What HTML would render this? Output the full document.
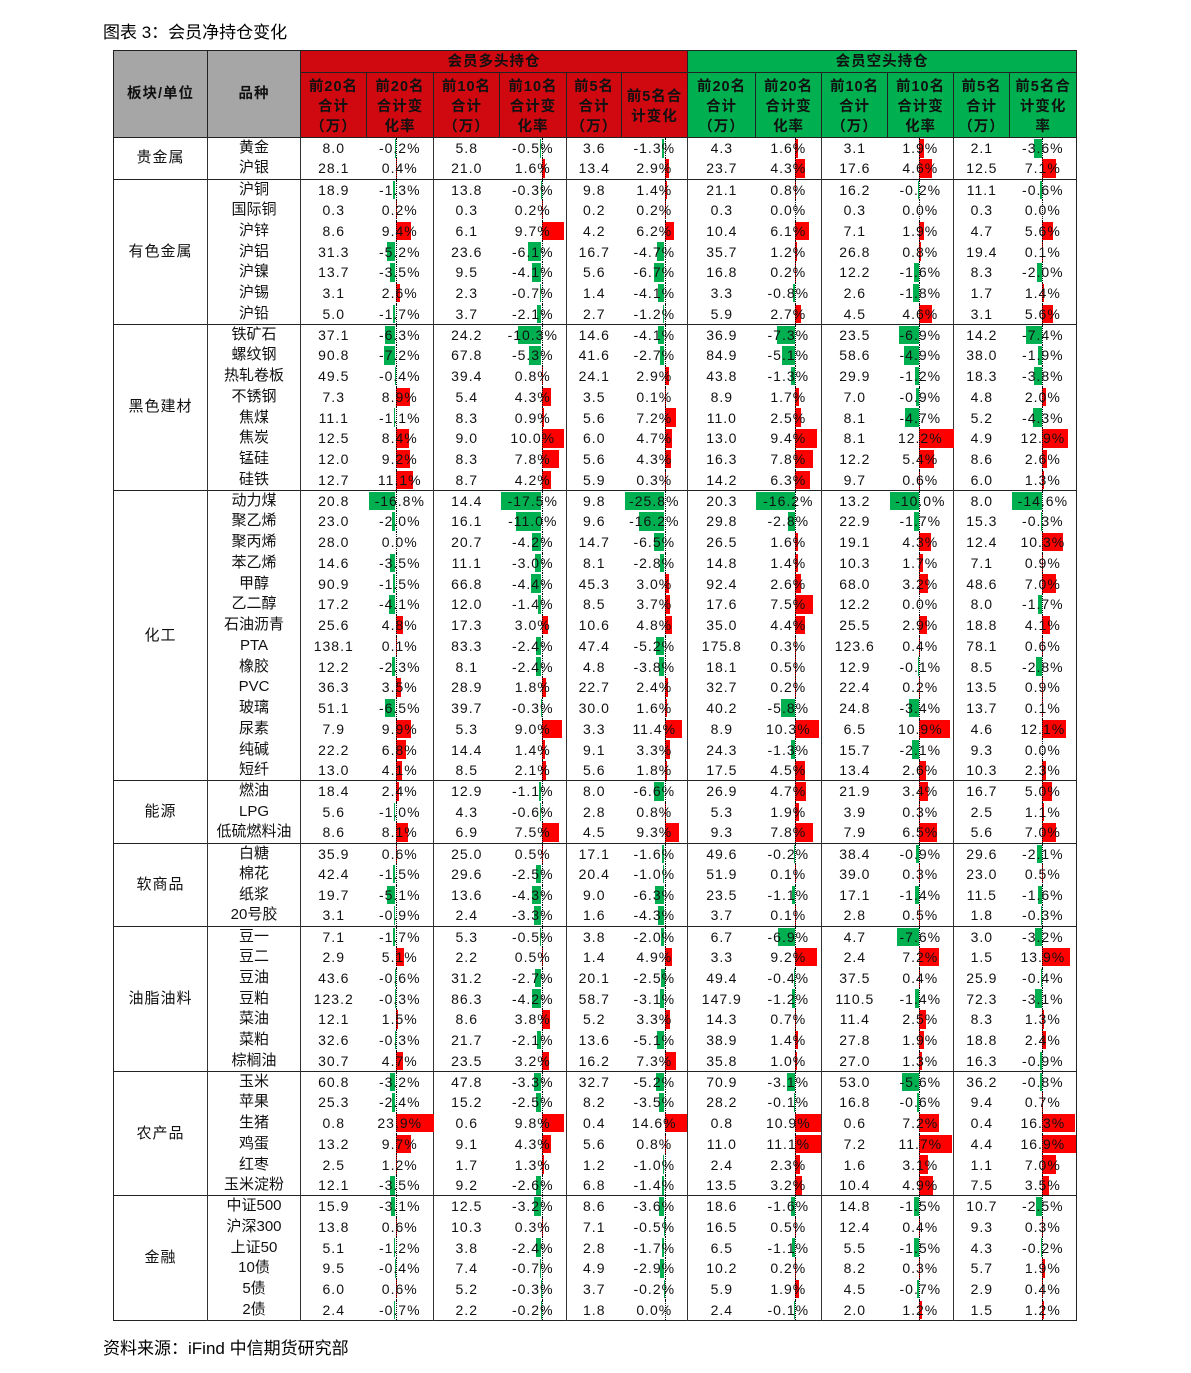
<!DOCTYPE html>
<html><head><meta charset="utf-8"><style>
body{margin:0;background:#fff;width:1191px;height:1373px;position:relative;font-family:"Liberation Sans","Noto Sans CJK SC",sans-serif;}
.t{position:absolute;left:103px;top:18px;font-size:17px;color:#000;}
.f{position:absolute;left:103px;top:1334px;font-size:17px;color:#000;}
table{position:absolute;left:113px;top:50px;border-collapse:collapse;table-layout:fixed;width:963px;border:1.5px solid #222;}
td{padding:0;text-align:center;font-size:14px;letter-spacing:1px;color:#111;white-space:nowrap;overflow:visible;position:relative;line-height:20px;}
thead td{font-weight:bold;font-size:14.5px;line-height:20px;border:1px solid #222;}
thead tr.h2 td{padding-top:4px;}
.g{background:#a6a6a6;}
.r{background:#d0080f;}
.gr{background:#00b050;}
tbody tr{height:20.75px;}
.s{font-size:15px;}
.n{font-family:"Liberation Sans","Noto Sans CJK SC",sans-serif;font-size:15px;letter-spacing:0;}
.bl{border-right:1px solid #333;}
.x td{border-top:1px solid #222;}
.c span{position:relative;z-index:2;}
.bar{position:absolute;top:1px;height:18.5px;z-index:1;}
.ax{position:absolute;top:0;bottom:0;width:0;border-left:1px dotted #000;z-index:1;}
</style></head><body>
<div class="t">图表 3：会员净持仓变化</div>
<table>
<colgroup><col style="width:94px"><col style="width:93px"><col style="width:66px"><col style="width:67px"><col style="width:66px"><col style="width:67px"><col style="width:55px"><col style="width:66px"><col style="width:68px"><col style="width:66px"><col style="width:66px"><col style="width:66px"><col style="width:56px"><col style="width:67px"></colgroup>
<thead>
<tr style="height:22px"><td class="g" rowspan="2" style="padding-top:0">板块/单位</td><td class="g" rowspan="2" style="padding-top:0">品种</td><td class="r" colspan="6">会员多头持仓</td><td class="gr" colspan="6">会员空头持仓</td></tr>
<tr class="h2" style="height:65px"><td class="r">前20名<br>合计<br>（万）</td><td class="r">前20名<br>合计变<br>化率</td><td class="r">前10名<br>合计<br>（万）</td><td class="r">前10名<br>合计变<br>化率</td><td class="r">前5名<br>合计<br>（万）</td><td class="r">前5名合<br>计变化</td><td class="gr">前20名<br>合计<br>（万）</td><td class="gr">前20名<br>合计变<br>化率</td><td class="gr">前10名<br>合计<br>（万）</td><td class="gr">前10名<br>合计变<br>化率</td><td class="gr">前5名<br>合计<br>（万）</td><td class="gr">前5名合<br>计变化<br>率</td></tr>
</thead>
<tbody id="tb">
<tr class="x"><td rowspan="2" class="s bl">贵金属</td><td class="n bl">黄金</td><td>8.0</td><td class="c">-0.2%</td><td>5.8</td><td class="c">-0.5%</td><td>3.6</td><td class="c">-1.3%</td><td>4.3</td><td class="c">1.6%</td><td>3.1</td><td class="c">1.9%</td><td>2.1</td><td class="c">-3.6%</td></tr>
<tr><td class="n bl">沪银</td><td>28.1</td><td class="c">0.4%</td><td>21.0</td><td class="c">1.6%</td><td>13.4</td><td class="c">2.9%</td><td>23.7</td><td class="c">4.3%</td><td>17.6</td><td class="c">4.6%</td><td>12.5</td><td class="c">7.1%</td></tr>
<tr class="x"><td rowspan="7" class="s bl">有色金属</td><td class="n bl">沪铜</td><td>18.9</td><td class="c">-1.3%</td><td>13.8</td><td class="c">-0.3%</td><td>9.8</td><td class="c">1.4%</td><td>21.1</td><td class="c">0.8%</td><td>16.2</td><td class="c">-0.2%</td><td>11.1</td><td class="c">-0.6%</td></tr>
<tr><td class="n bl">国际铜</td><td>0.3</td><td class="c">0.2%</td><td>0.3</td><td class="c">0.2%</td><td>0.2</td><td class="c">0.2%</td><td>0.3</td><td class="c">0.0%</td><td>0.3</td><td class="c">0.0%</td><td>0.3</td><td class="c">0.0%</td></tr>
<tr><td class="n bl">沪锌</td><td>8.6</td><td class="c">9.4%</td><td>6.1</td><td class="c">9.7%</td><td>4.2</td><td class="c">6.2%</td><td>10.4</td><td class="c">6.1%</td><td>7.1</td><td class="c">1.9%</td><td>4.7</td><td class="c">5.6%</td></tr>
<tr><td class="n bl">沪铝</td><td>31.3</td><td class="c">-5.2%</td><td>23.6</td><td class="c">-6.1%</td><td>16.7</td><td class="c">-4.7%</td><td>35.7</td><td class="c">1.2%</td><td>26.8</td><td class="c">0.8%</td><td>19.4</td><td class="c">0.1%</td></tr>
<tr><td class="n bl">沪镍</td><td>13.7</td><td class="c">-3.5%</td><td>9.5</td><td class="c">-4.1%</td><td>5.6</td><td class="c">-6.7%</td><td>16.8</td><td class="c">0.2%</td><td>12.2</td><td class="c">-1.6%</td><td>8.3</td><td class="c">-2.0%</td></tr>
<tr><td class="n bl">沪锡</td><td>3.1</td><td class="c">2.6%</td><td>2.3</td><td class="c">-0.7%</td><td>1.4</td><td class="c">-4.1%</td><td>3.3</td><td class="c">-0.8%</td><td>2.6</td><td class="c">-1.8%</td><td>1.7</td><td class="c">1.4%</td></tr>
<tr><td class="n bl">沪铅</td><td>5.0</td><td class="c">-1.7%</td><td>3.7</td><td class="c">-2.1%</td><td>2.7</td><td class="c">-1.2%</td><td>5.9</td><td class="c">2.7%</td><td>4.5</td><td class="c">4.6%</td><td>3.1</td><td class="c">5.6%</td></tr>
<tr class="x"><td rowspan="8" class="s bl">黑色建材</td><td class="n bl">铁矿石</td><td>37.1</td><td class="c">-6.3%</td><td>24.2</td><td class="c">-10.3%</td><td>14.6</td><td class="c">-4.1%</td><td>36.9</td><td class="c">-7.3%</td><td>23.5</td><td class="c">-6.9%</td><td>14.2</td><td class="c">-7.4%</td></tr>
<tr><td class="n bl">螺纹钢</td><td>90.8</td><td class="c">-7.2%</td><td>67.8</td><td class="c">-5.3%</td><td>41.6</td><td class="c">-2.7%</td><td>84.9</td><td class="c">-5.1%</td><td>58.6</td><td class="c">-4.9%</td><td>38.0</td><td class="c">-1.9%</td></tr>
<tr><td class="n bl">热轧卷板</td><td>49.5</td><td class="c">-0.4%</td><td>39.4</td><td class="c">0.8%</td><td>24.1</td><td class="c">2.9%</td><td>43.8</td><td class="c">-1.3%</td><td>29.9</td><td class="c">-1.2%</td><td>18.3</td><td class="c">-3.8%</td></tr>
<tr><td class="n bl">不锈钢</td><td>7.3</td><td class="c">8.9%</td><td>5.4</td><td class="c">4.3%</td><td>3.5</td><td class="c">0.1%</td><td>8.9</td><td class="c">1.7%</td><td>7.0</td><td class="c">-0.9%</td><td>4.8</td><td class="c">2.0%</td></tr>
<tr><td class="n bl">焦煤</td><td>11.1</td><td class="c">-1.1%</td><td>8.3</td><td class="c">0.9%</td><td>5.6</td><td class="c">7.2%</td><td>11.0</td><td class="c">2.5%</td><td>8.1</td><td class="c">-4.7%</td><td>5.2</td><td class="c">-4.3%</td></tr>
<tr><td class="n bl">焦炭</td><td>12.5</td><td class="c">8.4%</td><td>9.0</td><td class="c">10.0%</td><td>6.0</td><td class="c">4.7%</td><td>13.0</td><td class="c">9.4%</td><td>8.1</td><td class="c">12.2%</td><td>4.9</td><td class="c">12.9%</td></tr>
<tr><td class="n bl">锰硅</td><td>12.0</td><td class="c">9.2%</td><td>8.3</td><td class="c">7.8%</td><td>5.6</td><td class="c">4.3%</td><td>16.3</td><td class="c">7.8%</td><td>12.2</td><td class="c">5.4%</td><td>8.6</td><td class="c">2.6%</td></tr>
<tr><td class="n bl">硅铁</td><td>12.7</td><td class="c">11.1%</td><td>8.7</td><td class="c">4.2%</td><td>5.9</td><td class="c">0.3%</td><td>14.2</td><td class="c">6.3%</td><td>9.7</td><td class="c">0.6%</td><td>6.0</td><td class="c">1.3%</td></tr>
<tr class="x"><td rowspan="14" class="s bl">化工</td><td class="n bl">动力煤</td><td>20.8</td><td class="c">-16.8%</td><td>14.4</td><td class="c">-17.5%</td><td>9.8</td><td class="c">-25.8%</td><td>20.3</td><td class="c">-16.2%</td><td>13.2</td><td class="c">-10.0%</td><td>8.0</td><td class="c">-14.6%</td></tr>
<tr><td class="n bl">聚乙烯</td><td>23.0</td><td class="c">-2.0%</td><td>16.1</td><td class="c">-11.0%</td><td>9.6</td><td class="c">-16.2%</td><td>29.8</td><td class="c">-2.8%</td><td>22.9</td><td class="c">-1.7%</td><td>15.3</td><td class="c">-0.3%</td></tr>
<tr><td class="n bl">聚丙烯</td><td>28.0</td><td class="c">0.0%</td><td>20.7</td><td class="c">-4.2%</td><td>14.7</td><td class="c">-6.5%</td><td>26.5</td><td class="c">1.6%</td><td>19.1</td><td class="c">4.3%</td><td>12.4</td><td class="c">10.3%</td></tr>
<tr><td class="n bl">苯乙烯</td><td>14.6</td><td class="c">-3.5%</td><td>11.1</td><td class="c">-3.0%</td><td>8.1</td><td class="c">-2.8%</td><td>14.8</td><td class="c">1.4%</td><td>10.3</td><td class="c">1.7%</td><td>7.1</td><td class="c">0.9%</td></tr>
<tr><td class="n bl">甲醇</td><td>90.9</td><td class="c">-1.5%</td><td>66.8</td><td class="c">-4.4%</td><td>45.3</td><td class="c">3.0%</td><td>92.4</td><td class="c">2.6%</td><td>68.0</td><td class="c">3.2%</td><td>48.6</td><td class="c">7.0%</td></tr>
<tr><td class="n bl">乙二醇</td><td>17.2</td><td class="c">-4.1%</td><td>12.0</td><td class="c">-1.4%</td><td>8.5</td><td class="c">3.7%</td><td>17.6</td><td class="c">7.5%</td><td>12.2</td><td class="c">0.0%</td><td>8.0</td><td class="c">-1.7%</td></tr>
<tr><td class="n bl">石油沥青</td><td>25.6</td><td class="c">4.8%</td><td>17.3</td><td class="c">3.0%</td><td>10.6</td><td class="c">4.8%</td><td>35.0</td><td class="c">4.4%</td><td>25.5</td><td class="c">2.9%</td><td>18.8</td><td class="c">4.1%</td></tr>
<tr><td class="n bl">PTA</td><td>138.1</td><td class="c">0.1%</td><td>83.3</td><td class="c">-2.4%</td><td>47.4</td><td class="c">-5.2%</td><td>175.8</td><td class="c">0.3%</td><td>123.6</td><td class="c">0.4%</td><td>78.1</td><td class="c">0.6%</td></tr>
<tr><td class="n bl">橡胶</td><td>12.2</td><td class="c">-2.3%</td><td>8.1</td><td class="c">-2.4%</td><td>4.8</td><td class="c">-3.8%</td><td>18.1</td><td class="c">0.5%</td><td>12.9</td><td class="c">-0.1%</td><td>8.5</td><td class="c">-2.8%</td></tr>
<tr><td class="n bl">PVC</td><td>36.3</td><td class="c">3.5%</td><td>28.9</td><td class="c">1.8%</td><td>22.7</td><td class="c">2.4%</td><td>32.7</td><td class="c">0.2%</td><td>22.4</td><td class="c">0.2%</td><td>13.5</td><td class="c">0.9%</td></tr>
<tr><td class="n bl">玻璃</td><td>51.1</td><td class="c">-6.5%</td><td>39.7</td><td class="c">-0.3%</td><td>30.0</td><td class="c">1.6%</td><td>40.2</td><td class="c">-5.8%</td><td>24.8</td><td class="c">-3.4%</td><td>13.7</td><td class="c">0.1%</td></tr>
<tr><td class="n bl">尿素</td><td>7.9</td><td class="c">9.9%</td><td>5.3</td><td class="c">9.0%</td><td>3.3</td><td class="c">11.4%</td><td>8.9</td><td class="c">10.3%</td><td>6.5</td><td class="c">10.9%</td><td>4.6</td><td class="c">12.1%</td></tr>
<tr><td class="n bl">纯碱</td><td>22.2</td><td class="c">6.8%</td><td>14.4</td><td class="c">1.4%</td><td>9.1</td><td class="c">3.3%</td><td>24.3</td><td class="c">-1.3%</td><td>15.7</td><td class="c">-2.1%</td><td>9.3</td><td class="c">0.0%</td></tr>
<tr><td class="n bl">短纤</td><td>13.0</td><td class="c">4.1%</td><td>8.5</td><td class="c">2.1%</td><td>5.6</td><td class="c">1.8%</td><td>17.5</td><td class="c">4.5%</td><td>13.4</td><td class="c">2.6%</td><td>10.3</td><td class="c">2.3%</td></tr>
<tr class="x"><td rowspan="3" class="s bl">能源</td><td class="n bl">燃油</td><td>18.4</td><td class="c">2.4%</td><td>12.9</td><td class="c">-1.1%</td><td>8.0</td><td class="c">-6.6%</td><td>26.9</td><td class="c">4.7%</td><td>21.9</td><td class="c">3.4%</td><td>16.7</td><td class="c">5.0%</td></tr>
<tr><td class="n bl">LPG</td><td>5.6</td><td class="c">-1.0%</td><td>4.3</td><td class="c">-0.6%</td><td>2.8</td><td class="c">0.8%</td><td>5.3</td><td class="c">1.9%</td><td>3.9</td><td class="c">0.3%</td><td>2.5</td><td class="c">1.1%</td></tr>
<tr><td class="n bl">低硫燃料油</td><td>8.6</td><td class="c">8.1%</td><td>6.9</td><td class="c">7.5%</td><td>4.5</td><td class="c">9.3%</td><td>9.3</td><td class="c">7.8%</td><td>7.9</td><td class="c">6.5%</td><td>5.6</td><td class="c">7.0%</td></tr>
<tr class="x"><td rowspan="4" class="s bl">软商品</td><td class="n bl">白糖</td><td>35.9</td><td class="c">0.6%</td><td>25.0</td><td class="c">0.5%</td><td>17.1</td><td class="c">-1.6%</td><td>49.6</td><td class="c">-0.2%</td><td>38.4</td><td class="c">-0.9%</td><td>29.6</td><td class="c">-2.1%</td></tr>
<tr><td class="n bl">棉花</td><td>42.4</td><td class="c">-1.5%</td><td>29.6</td><td class="c">-2.5%</td><td>20.4</td><td class="c">-1.0%</td><td>51.9</td><td class="c">0.1%</td><td>39.0</td><td class="c">0.3%</td><td>23.0</td><td class="c">0.5%</td></tr>
<tr><td class="n bl">纸浆</td><td>19.7</td><td class="c">-5.1%</td><td>13.6</td><td class="c">-4.3%</td><td>9.0</td><td class="c">-6.3%</td><td>23.5</td><td class="c">-1.1%</td><td>17.1</td><td class="c">-1.4%</td><td>11.5</td><td class="c">-1.6%</td></tr>
<tr><td class="n bl">20号胶</td><td>3.1</td><td class="c">-0.9%</td><td>2.4</td><td class="c">-3.3%</td><td>1.6</td><td class="c">-4.3%</td><td>3.7</td><td class="c">0.1%</td><td>2.8</td><td class="c">0.5%</td><td>1.8</td><td class="c">-0.3%</td></tr>
<tr class="x"><td rowspan="7" class="s bl">油脂油料</td><td class="n bl">豆一</td><td>7.1</td><td class="c">-1.7%</td><td>5.3</td><td class="c">-0.5%</td><td>3.8</td><td class="c">-2.0%</td><td>6.7</td><td class="c">-6.9%</td><td>4.7</td><td class="c">-7.6%</td><td>3.0</td><td class="c">-3.2%</td></tr>
<tr><td class="n bl">豆二</td><td>2.9</td><td class="c">5.1%</td><td>2.2</td><td class="c">0.5%</td><td>1.4</td><td class="c">4.9%</td><td>3.3</td><td class="c">9.2%</td><td>2.4</td><td class="c">7.2%</td><td>1.5</td><td class="c">13.9%</td></tr>
<tr><td class="n bl">豆油</td><td>43.6</td><td class="c">-0.6%</td><td>31.2</td><td class="c">-2.7%</td><td>20.1</td><td class="c">-2.5%</td><td>49.4</td><td class="c">-0.4%</td><td>37.5</td><td class="c">0.4%</td><td>25.9</td><td class="c">-0.4%</td></tr>
<tr><td class="n bl">豆粕</td><td>123.2</td><td class="c">-0.3%</td><td>86.3</td><td class="c">-4.2%</td><td>58.7</td><td class="c">-3.1%</td><td>147.9</td><td class="c">-1.2%</td><td>110.5</td><td class="c">-1.4%</td><td>72.3</td><td class="c">-3.1%</td></tr>
<tr><td class="n bl">菜油</td><td>12.1</td><td class="c">1.5%</td><td>8.6</td><td class="c">3.8%</td><td>5.2</td><td class="c">3.3%</td><td>14.3</td><td class="c">0.7%</td><td>11.4</td><td class="c">2.5%</td><td>8.3</td><td class="c">1.3%</td></tr>
<tr><td class="n bl">菜粕</td><td>32.6</td><td class="c">-0.3%</td><td>21.7</td><td class="c">-2.1%</td><td>13.6</td><td class="c">-5.1%</td><td>38.9</td><td class="c">1.4%</td><td>27.8</td><td class="c">1.9%</td><td>18.8</td><td class="c">2.4%</td></tr>
<tr><td class="n bl">棕榈油</td><td>30.7</td><td class="c">4.7%</td><td>23.5</td><td class="c">3.2%</td><td>16.2</td><td class="c">7.3%</td><td>35.8</td><td class="c">1.0%</td><td>27.0</td><td class="c">1.3%</td><td>16.3</td><td class="c">-0.9%</td></tr>
<tr class="x"><td rowspan="6" class="s bl">农产品</td><td class="n bl">玉米</td><td>60.8</td><td class="c">-3.2%</td><td>47.8</td><td class="c">-3.3%</td><td>32.7</td><td class="c">-5.2%</td><td>70.9</td><td class="c">-3.1%</td><td>53.0</td><td class="c">-5.6%</td><td>36.2</td><td class="c">-0.8%</td></tr>
<tr><td class="n bl">苹果</td><td>25.3</td><td class="c">-2.4%</td><td>15.2</td><td class="c">-2.5%</td><td>8.2</td><td class="c">-3.5%</td><td>28.2</td><td class="c">-0.1%</td><td>16.8</td><td class="c">-0.6%</td><td>9.4</td><td class="c">0.7%</td></tr>
<tr><td class="n bl">生猪</td><td>0.8</td><td class="c">23.9%</td><td>0.6</td><td class="c">9.8%</td><td>0.4</td><td class="c">14.6%</td><td>0.8</td><td class="c">10.9%</td><td>0.6</td><td class="c">7.2%</td><td>0.4</td><td class="c">16.3%</td></tr>
<tr><td class="n bl">鸡蛋</td><td>13.2</td><td class="c">9.7%</td><td>9.1</td><td class="c">4.3%</td><td>5.6</td><td class="c">0.8%</td><td>11.0</td><td class="c">11.1%</td><td>7.2</td><td class="c">11.7%</td><td>4.4</td><td class="c">16.9%</td></tr>
<tr><td class="n bl">红枣</td><td>2.5</td><td class="c">1.2%</td><td>1.7</td><td class="c">1.3%</td><td>1.2</td><td class="c">-1.0%</td><td>2.4</td><td class="c">2.3%</td><td>1.6</td><td class="c">3.1%</td><td>1.1</td><td class="c">7.0%</td></tr>
<tr><td class="n bl">玉米淀粉</td><td>12.1</td><td class="c">-3.5%</td><td>9.2</td><td class="c">-2.6%</td><td>6.8</td><td class="c">-1.4%</td><td>13.5</td><td class="c">3.2%</td><td>10.4</td><td class="c">4.9%</td><td>7.5</td><td class="c">3.5%</td></tr>
<tr class="x"><td rowspan="6" class="s bl">金融</td><td class="n bl">中证500</td><td>15.9</td><td class="c">-3.1%</td><td>12.5</td><td class="c">-3.2%</td><td>8.6</td><td class="c">-3.6%</td><td>18.6</td><td class="c">-1.6%</td><td>14.8</td><td class="c">-1.5%</td><td>10.7</td><td class="c">-2.5%</td></tr>
<tr><td class="n bl">沪深300</td><td>13.8</td><td class="c">0.6%</td><td>10.3</td><td class="c">0.3%</td><td>7.1</td><td class="c">-0.5%</td><td>16.5</td><td class="c">0.5%</td><td>12.4</td><td class="c">0.4%</td><td>9.3</td><td class="c">0.3%</td></tr>
<tr><td class="n bl">上证50</td><td>5.1</td><td class="c">-1.2%</td><td>3.8</td><td class="c">-2.4%</td><td>2.8</td><td class="c">-1.7%</td><td>6.5</td><td class="c">-1.1%</td><td>5.5</td><td class="c">-1.5%</td><td>4.3</td><td class="c">-0.2%</td></tr>
<tr><td class="n bl">10债</td><td>9.5</td><td class="c">-0.4%</td><td>7.4</td><td class="c">-0.7%</td><td>4.9</td><td class="c">-2.9%</td><td>10.2</td><td class="c">0.2%</td><td>8.2</td><td class="c">0.3%</td><td>5.7</td><td class="c">1.9%</td></tr>
<tr><td class="n bl">5债</td><td>6.0</td><td class="c">0.6%</td><td>5.2</td><td class="c">-0.3%</td><td>3.7</td><td class="c">-0.2%</td><td>5.9</td><td class="c">1.9%</td><td>4.5</td><td class="c">-0.7%</td><td>2.9</td><td class="c">0.4%</td></tr>
<tr><td class="n bl">2债</td><td>2.4</td><td class="c">-0.7%</td><td>2.2</td><td class="c">-0.2%</td><td>1.8</td><td class="c">0.0%</td><td>2.4</td><td class="c">-0.1%</td><td>2.0</td><td class="c">1.2%</td><td>1.5</td><td class="c">1.2%</td></tr>
</tbody></table>
<div class="f">资料来源：iFind 中信期货研究部</div>
<script>
var cfg=[[29,1.6],[42,2.29],[43,1.55],[39,2.4],[31,2.9],[32,2.05]];
var rows=document.querySelectorAll('#tb tr');
rows.forEach(function(tr){
  var cs=tr.querySelectorAll('td.c');
  cs.forEach(function(td,i){
    var t=td.textContent, v=parseFloat(t), a=cfg[i][0], s=cfg[i][1];
    td.innerHTML='<span>'+t+'</span>';
    if(v!==0){var b=document.createElement('div');b.className='bar';
      var w=Math.abs(v)*s; b.style.width=w+'px';
      b.style.left=(v<0?a-w:a)+'px'; b.style.background=v<0?'#00b050':'#ff0000';td.appendChild(b);}
    var ax=document.createElement('div');ax.className='ax';ax.style.left=a+'px';td.appendChild(ax);
  });
  var tds=tr.children, off=tr.classList.contains('x')?1:0;
  [2,4,6,8,10].forEach(function(k){var el=tds[k+off]; if(el) el.style.borderRight='1px solid #333';});
});
</script>
</body></html>
